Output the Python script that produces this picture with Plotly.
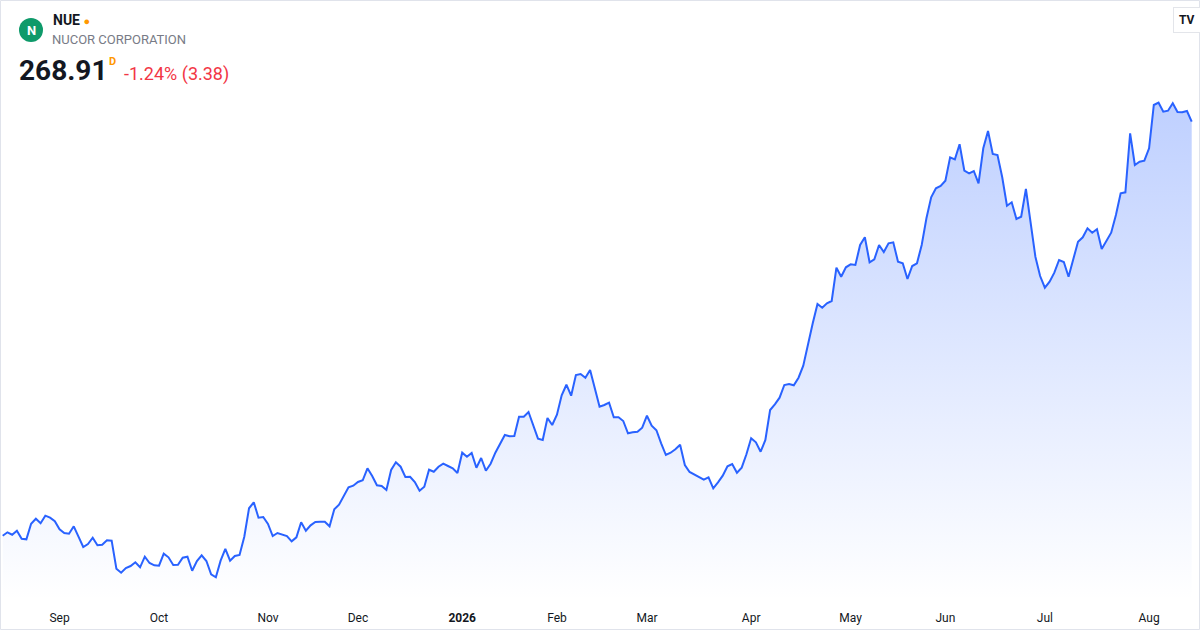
import pandas as pd
import plotly.graph_objects as go

# NUE daily closes, one year of trading days
prices = [
    138.09, 139.16, 138.40, 139.67, 137.14, 136.95, 141.88, 143.46, 142.01, 144.41,
    143.78, 142.64, 140.11, 138.94, 138.72, 141.06, 137.77, 134.52, 135.47, 137.46,
    135.06, 135.24, 136.64, 136.51, 127.66, 126.40, 127.88, 128.51, 129.68, 128.10,
    131.45, 129.46, 128.74, 128.61, 132.40, 131.26, 128.83, 128.92, 131.14, 131.45,
    127.03, 130.09, 131.90, 130.09, 125.89, 124.94, 130.19, 133.89, 130.19, 131.67,
    131.99, 137.77, 146.75,
    148.64, 143.78, 144.00, 141.79, 137.99, 138.94, 138.40, 137.99, 136.32, 137.58,
    142.32, 139.67, 141.37, 142.42, 142.51, 142.51, 141.06, 146.43, 147.88, 150.63,
    153.38, 153.89, 155.06, 155.60, 159.39, 156.95, 154.02, 153.79, 152.53, 158.85,
    161.28, 159.89, 156.64, 156.73, 155.06, 152.31, 153.57, 158.94, 158.31, 159.89,
    160.84, 160.11, 159.39, 157.90, 164.32, 163.05, 164.22, 159.58, 162.64, 158.63,
    160.84,
    164.32, 167.29, 169.91, 169.50, 169.59, 175.69, 175.69, 177.18, 172.98, 168.74,
    168.33, 175.28, 173.07, 176.32, 182.46, 185.80, 182.33, 188.87, 189.19, 188.02,
    190.45, 184.67, 178.85, 179.39, 180.12, 175.50, 175.50, 174.33, 170.45, 170.76,
    170.95, 172.22, 176.01, 172.85, 171.40, 167.29, 163.59, 164.32, 165.39, 166.84,
    160.43, 158.22, 157.49, 156.73, 155.78, 156.54, 153.07, 154.96, 157.05, 160.02,
    160.75, 158.00, 159.58, 163.81, 168.87, 167.60, 164.63, 168.33, 177.81, 179.61,
    181.70, 185.71, 186.03, 185.62, 188.02, 191.81, 198.89, 205.21, 211.31, 210.14,
    211.53, 212.25, 222.78, 219.93, 222.90, 223.85, 223.63, 229.95, 232.38, 224.48,
    225.43, 229.95, 227.74, 230.49, 230.80, 224.67, 224.17, 219.21, 223.31, 224.17,
    229.95, 238.39, 245.02, 247.87, 248.59, 250.27, 257.66, 257.03, 261.77, 253.43,
    252.61, 253.33, 249.45, 260.51, 265.97, 258.71, 258.39, 251.34, 242.37, 243.44,
    238.17, 238.89, 247.65, 237.31, 226.25, 220.15, 216.46, 218.35, 221.20, 225.21,
    224.58, 219.93, 225.43, 230.99, 232.38, 235.23, 233.84, 234.91, 228.69, 231.31,
    233.84, 239.43, 246.29, 246.60, 265.25, 255.23, 256.27, 256.59, 260.51, 274.19,
    274.92, 272.07, 272.39, 274.73, 271.98, 271.88, 272.29, 268.91,
]

# NYSE holidays inside the window
holidays = ['2025-09-01', '2025-11-27', '2025-12-25', '2026-01-01', '2026-01-19',
            '2026-02-16', '2026-04-03', '2026-05-25', '2026-06-19', '2026-07-03']
dates = pd.bdate_range(start='2025-08-14', periods=len(prices), freq='C', holidays=holidays)
dates = [d.strftime('%Y-%m-%d') for d in dates]

tick_dates = ['2025-09-02', '2025-10-01', '2025-11-03', '2025-12-01', '2026-01-02', '2026-02-02',
              '2026-03-02', '2026-04-01', '2026-05-01', '2026-06-01', '2026-07-01', '2026-08-03']
tick_labels = ['Sep', 'Oct', 'Nov', 'Dec', '<b>2026</b>', 'Feb', 'Mar', 'Apr', 'May', 'Jun', 'Jul', 'Aug']

line_color = '#2962FF'

trace = go.Scatter(
    x=dates, y=prices, mode='lines',
    line=dict(color=line_color, width=2),
    fill='tozeroy',
    fillgradient=dict(type='vertical', start=117.8, stop=275,
                      colorscale=[[0, 'rgba(41,98,255,0.0)'], [1, 'rgba(41,98,255,0.3)']]),
    hoverinfo='skip',
)

fig = go.Figure(data=[trace])

W, H_PLOT = 1200, 600


def px(x):
    return x / W


def py(y):
    return 1 - y / H_PLOT


font = 'Roboto, Arial, sans-serif'


def label(x, y, text, size, color, xanchor='left', **kw):
    return dict(x=px(x), y=py(y), text=text, showarrow=False, xref='paper', yref='paper',
                xanchor=xanchor, yanchor='middle', font=dict(size=size, color=color, family=font), **kw)


fig.update_layout(
    width=1200, height=630,
    margin=dict(l=0, r=0, t=0, b=30),
    paper_bgcolor='white', plot_bgcolor='white',
    showlegend=False,
    font=dict(family=font, color='#131722'),
    xaxis=dict(type='category', range=[-0.57, 252.75], showgrid=False, zeroline=False,
               showline=False, tickmode='array', tickvals=tick_dates, ticktext=tick_labels,
               ticks='outside', ticklen=7, tickcolor='rgba(0,0,0,0)',
               tickfont=dict(size=12, color='#131722', family=font), fixedrange=True),
    yaxis=dict(range=[117.77, 307.37], visible=False, fixedrange=True),
    shapes=[
        # outer card border
        dict(type='rect', xref='paper', yref='paper', x0=px(0.5), x1=px(1199.5),
             y0=py(629.5), y1=py(0.5), line=dict(color='#E0E3EB', width=1), layer='above'),
        # logo circle
        dict(type='circle', xref='paper', yref='paper', x0=px(19), x1=px(43), y0=py(42), y1=py(18),
             fillcolor='#0E9A6A', line=dict(width=0)),
    ],
    annotations=[
        label(31, 30, '<b>N</b>', 13, 'white', xanchor='center'),
        label(51, 20, "<b>NUE</b> <span style='color:#FF9800;font-size:11px'>●</span>", 14, '#131722'),
        label(50, 40, 'NUCOR CORPORATION', 13, '#787B86'),
        label(17, 70, '<b>268.91</b>', 28, '#131722'),
        label(107, 61, '<b>D</b>', 11, '#FF9800'),
        label(122, 74, '-1.24% (3.38)', 18, '#F23645'),
        label(1187, 20, '<b>TV</b>', 12, '#131722', xanchor='center', bgcolor='white',
              bordercolor='#E3E5EA', borderwidth=1, borderpad=5),
    ],
)

fig.write_html("out.html", config={'displayModeBar': False, 'staticPlot': True},
               post_script="document.body.style.margin='0';document.body.style.overflow='hidden';")
